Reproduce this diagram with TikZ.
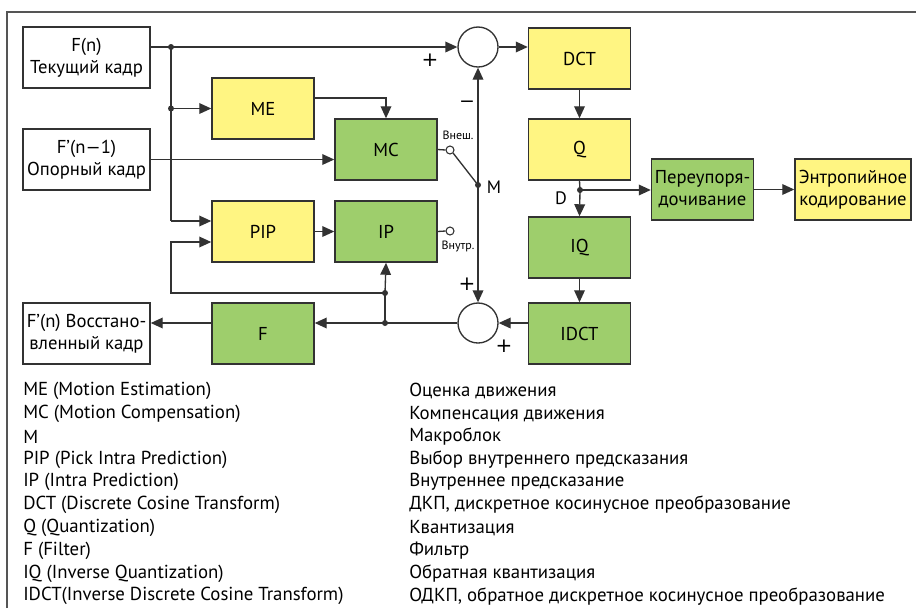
\documentclass[tikz,border=0pt]{standalone}
\usepackage{fontspec}
\setmainfont{PT Sans}
\newfontfamily\signfont{DejaVu Sans}
\usetikzlibrary{arrows.meta,calc}
\definecolor{byellow}{RGB}{255,245,130}
\definecolor{bgreen}{RGB}{158,206,108}
\definecolor{edge}{RGB}{50,50,50}
\definecolor{frame}{RGB}{85,85,85}
\begin{document}
\begin{tikzpicture}[x=0.75pt,y=-0.75pt,
  blk/.style={draw=edge,line width=1.1pt,minimum width=76.5pt,minimum height=45.75pt,inner sep=0pt,align=center,font=\fontsize{14}{16.5}\selectfont},
  iobox/.style={blk,fill=white,minimum width=95.25pt},
  ybox/.style={blk,fill=byellow},
  gbox/.style={blk,fill=bgreen},
  sumc/.style={draw=edge,line width=1pt,circle,minimum size=30pt,inner sep=0pt,fill=white},
  wire/.style={draw=edge,line width=1pt},
  arr/.style={wire,-{Triangle[length=9pt,width=8pt]}},
  jdot/.style={circle,fill=edge,inner sep=0pt,minimum size=4.5pt},
  sw/.style={circle,draw=edge,fill=white,line width=0.8pt,inner sep=0pt,minimum size=6pt},
  sml/.style={font=\fontsize{9}{10}\selectfont,inner sep=0pt},
  sgn/.style={font=\signfont\fontsize{15}{17}\selectfont,inner sep=0pt},
  msgn/.style={font=\fontsize{15}{17}\selectfont,inner sep=0pt},
  lbl/.style={font=\fontsize{13.5}{15}\selectfont,inner sep=0pt},
  leg/.style={anchor=west,inner sep=0pt,font=\fontsize{14.1}{16}\selectfont}]
\useasboundingbox (0,0) rectangle (916,608);
\fill[white] (0,0) rectangle (916,608);
\draw[frame,line width=1.2pt] (7,608) -- (7,12) -- (916,12);

% blocks
\node[iobox] (Fn) at (86.5,57.5) {F(n)\\Текущий кадр};
\node[iobox] (Fref) at (86.5,159.5) {F’(n—1)\\Опорный кадр};
\node[iobox] (Frec) at (86.5,333.5) {F’(n) Восстано-\\вленный кадр};
\node[ybox] (ME) at (263,108.5) {ME};
\node[gbox] (MC) at (386,149.5) {MC};
\node[ybox] (PIP) at (263,231.5) {PIP};
\node[gbox] (IP) at (386,231.5) {IP};
\node[gbox] (F) at (263,333.5) {F};
\node[ybox] (DCT) at (579.5,58.5) {DCT};
\node[ybox] (Q) at (579.5,149.5) {Q};
\node[gbox] (IQ) at (579.5,247.5) {IQ};
\node[gbox] (IDCT) at (579.5,333.5) {IDCT};
\node[gbox] (RO) at (702.5,189.5) {Переупоря-\\дочивание};
\node[ybox,minimum width=87pt] (EC) at (853,189.5) {Энтропийное\\кодирование};
\node[sumc] (S1) at (478,47) {};
\node[sumc] (S2) at (478,323) {};

% junctions
\node[jdot] (j1) at (171,47) {};
\node[jdot] (j2) at (171,108.5) {};
\coordinate (j3) at (171,221);
\node[jdot] (jM) at (478,185) {};
\node[jdot] (jD) at (580,190) {};
\node[jdot] (jF) at (385,323) {};
\node[jdot] (jL) at (385,293) {};
\coordinate (l1) at (171,293);
\coordinate (l2) at (171,242);
\node[sw] (swE) at (450,150) {};
\node[sw] (swI) at (450,231) {};

% connectors
\draw[arr] (Fn.east |- S1) -- (S1.west);
\draw[wire] (j1.center) -- (j3);
\draw[arr] (j3) -- (PIP.west |- j3);
\draw[arr] (j2.center) -- (ME.west);
\draw[arr] (ME.east |- 0,98) -| (MC.north);
\draw[arr] (Fref.east) -- (MC.west |- Fref.east);
\draw[arr] (S1.east) -- (DCT.west |- S1);
\draw[arr] (DCT.south) -- (Q.north);
\draw[wire] (Q.south) -- (jD.center);
\draw[arr] (jD.center) -- (IQ.north);
\draw[arr] (jD.center) -- (RO.west |- jD);
\draw[arr] (RO.east) -- (EC.west);
\draw[arr] (IQ.south) -- (IDCT.north);
\draw[arr] (IDCT.west |- S2) -- (S2.east);
\draw[arr] (S2.west) -- (F.east |- S2);
\draw[arr] (F.west |- S2) -- (Frec.east |- S2);
\draw[wire] (jF.center) -- (jL.center);
\draw[arr] (jL.center) -- (IP.south);
\draw[arr] (jL.center) -- (l1) -- (l2) -- (PIP.west |- l2);
\draw[arr] (PIP.east) -- (IP.west);
\draw[wire] (MC.east) -- (swE.west);
\draw[wire] (IP.east) -- (swI.west);
\draw[wire] (swE.south east) -- (jM.center);
\draw[arr] (jM.center) -- (S1.south);
\draw[arr] (jM.center) -- (S2.north);

% labels
\node[sgn] at (430,60) {+};
\node[msgn] at (467,104) {—};
\node[sgn] at (467,284) {+};
\node[sgn] at (504,346) {+};
\node[lbl] at (494,187) {M};
\node[lbl] at (561,198) {D};
\node[sml] at (458,135) {Внеш.};
\node[sml] at (458,246) {Внутр.};

% legend
\foreach \i/\a/\b in {0/ME (Motion Estimation)/Оценка движения,
  1/MC (Motion Compensation)/Компенсация движения,
  2/M/Макроблок,
  3/PIP (Pick Intra Prediction)/Выбор внутреннего предсказания,
  4/IP (Intra Prediction)/Внутреннее предсказание,
  5/DCT (Discrete Cosine Transform)/{ДКП, дискретное косинусное преобразование},
  6/Q (Quantization)/Квантизация,
  7/F (Filter)/Фильтр,
  8/IQ (Inverse Quantization)/Обратная квантизация,
  9/IDCT(Inverse Discrete Cosine Transform)/{ОДКП, обратное дискретное косинусное преобразование}}{
  \node[leg] (la\i) at (23,{391+22.8*\i}) {\a};
  \node[leg] (lb\i) at (409,{391+22.8*\i}) {\b};
}
\end{tikzpicture}
\end{document}
